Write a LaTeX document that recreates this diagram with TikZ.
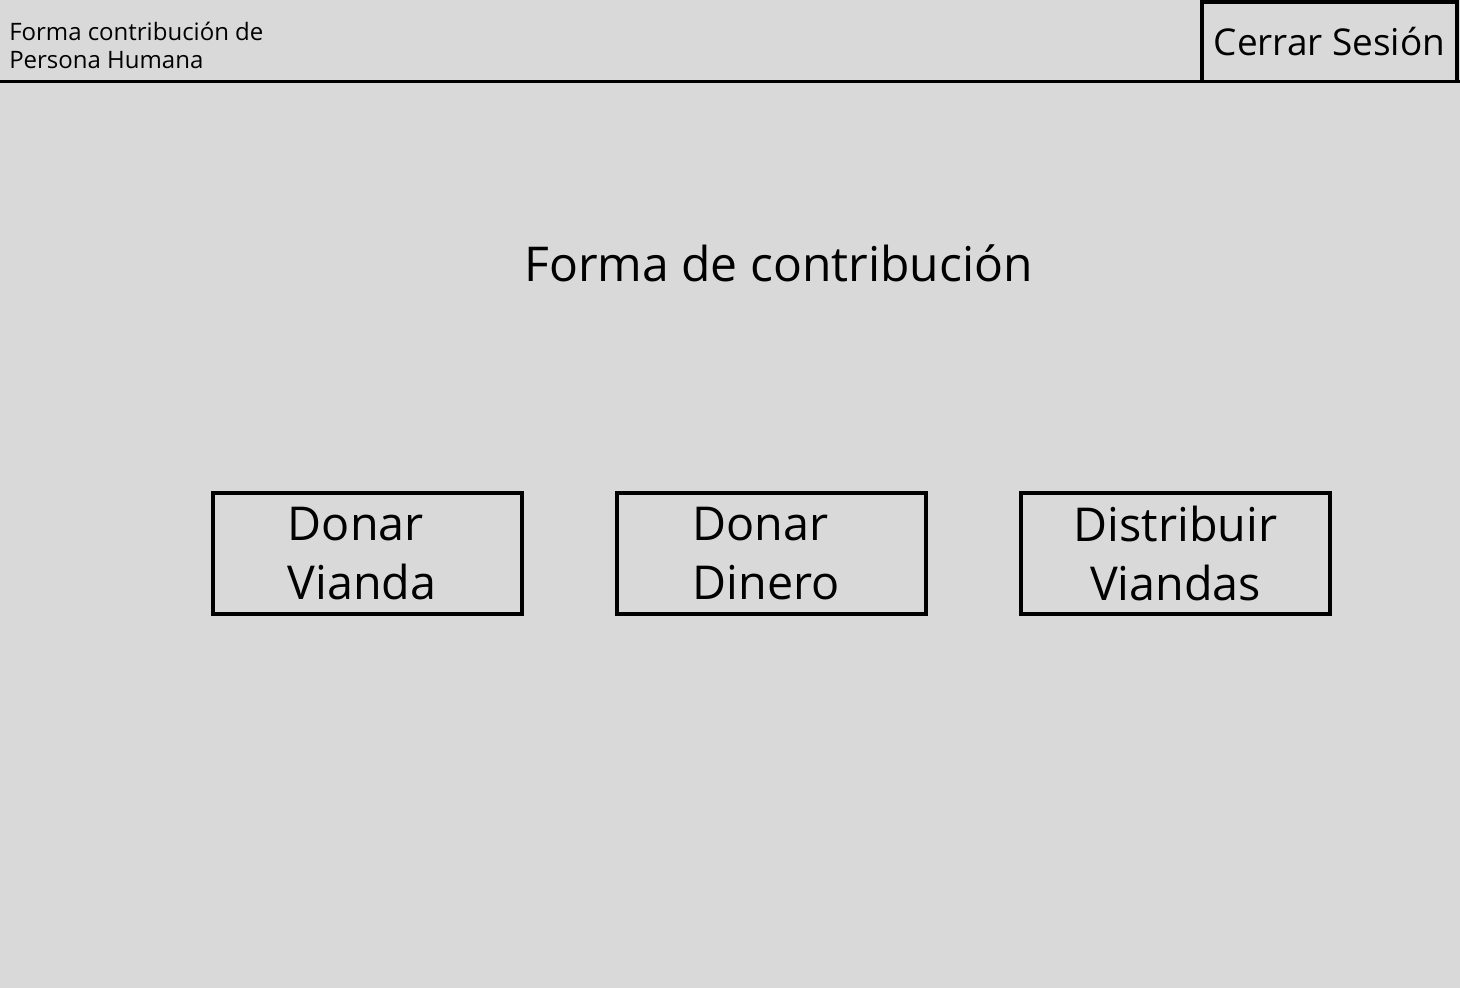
\documentclass[tikz,border=0pt]{standalone}
\usepackage{fontspec}
\setmainfont{Open Sans}
\usepackage{tikz}
\usetikzlibrary{positioning}

\definecolor{fondo}{RGB}{217,217,217}
\tikzset{
  caja/.style={draw, line width=2.7, inner sep=0pt, minimum width=231.75pt, minimum height=90.75pt, font=\fontsize{35}{44.5}\selectfont},
}

\begin{document}
\begin{tikzpicture}[x=0.75pt,y=0.75pt,yscale=-1,xscale=1]
%set diagram to 1460 x 988
\useasboundingbox (0,0) rectangle (1460,988);
\fill [fondo] (0,0) rectangle (1460,988);

%Straight Lines [header bar]
\coordinate (barIzq) at (0,81.5);
\coordinate (barDer) at (1460,81.5);
\draw [line width=2.7] (barIzq) -- (barDer);

% Text Node
\node (titulo) [anchor=north west, inner sep=0pt, align=left, font=\fontsize{18}{21}\selectfont] at (9,22) {Forma contribución de\\Persona Humana};
% Text Node
\node (cerrar) [draw, line width=2.7, inner sep=0pt, minimum width=191pt, minimum height=59.6pt, font=\fontsize{27.7}{32}\selectfont] at (1329.5,41.75) {Cerrar Sesión};
% Text Node
\node (forma) [anchor=base, inner sep=0pt, font=\fontsize{36}{42}\selectfont] at (778.5,281) {Forma de contribución};

%Shape: Rectangle
\node (vianda) [caja, align=left] at (367.5,553.5) {\hspace*{-8pt}Donar\\\hspace*{-8pt}Vianda};
%Shape: Rectangle
\node (dinero) [caja, align=left] at (771.5,553.5) {\hspace*{-8pt}Donar\\\hspace*{-8pt}Dinero};
%Shape: Rectangle
\node (distribuir) [caja, align=center] at (1175.5,553.5) {Distribuir\\Viandas};

\end{tikzpicture}
\end{document}
